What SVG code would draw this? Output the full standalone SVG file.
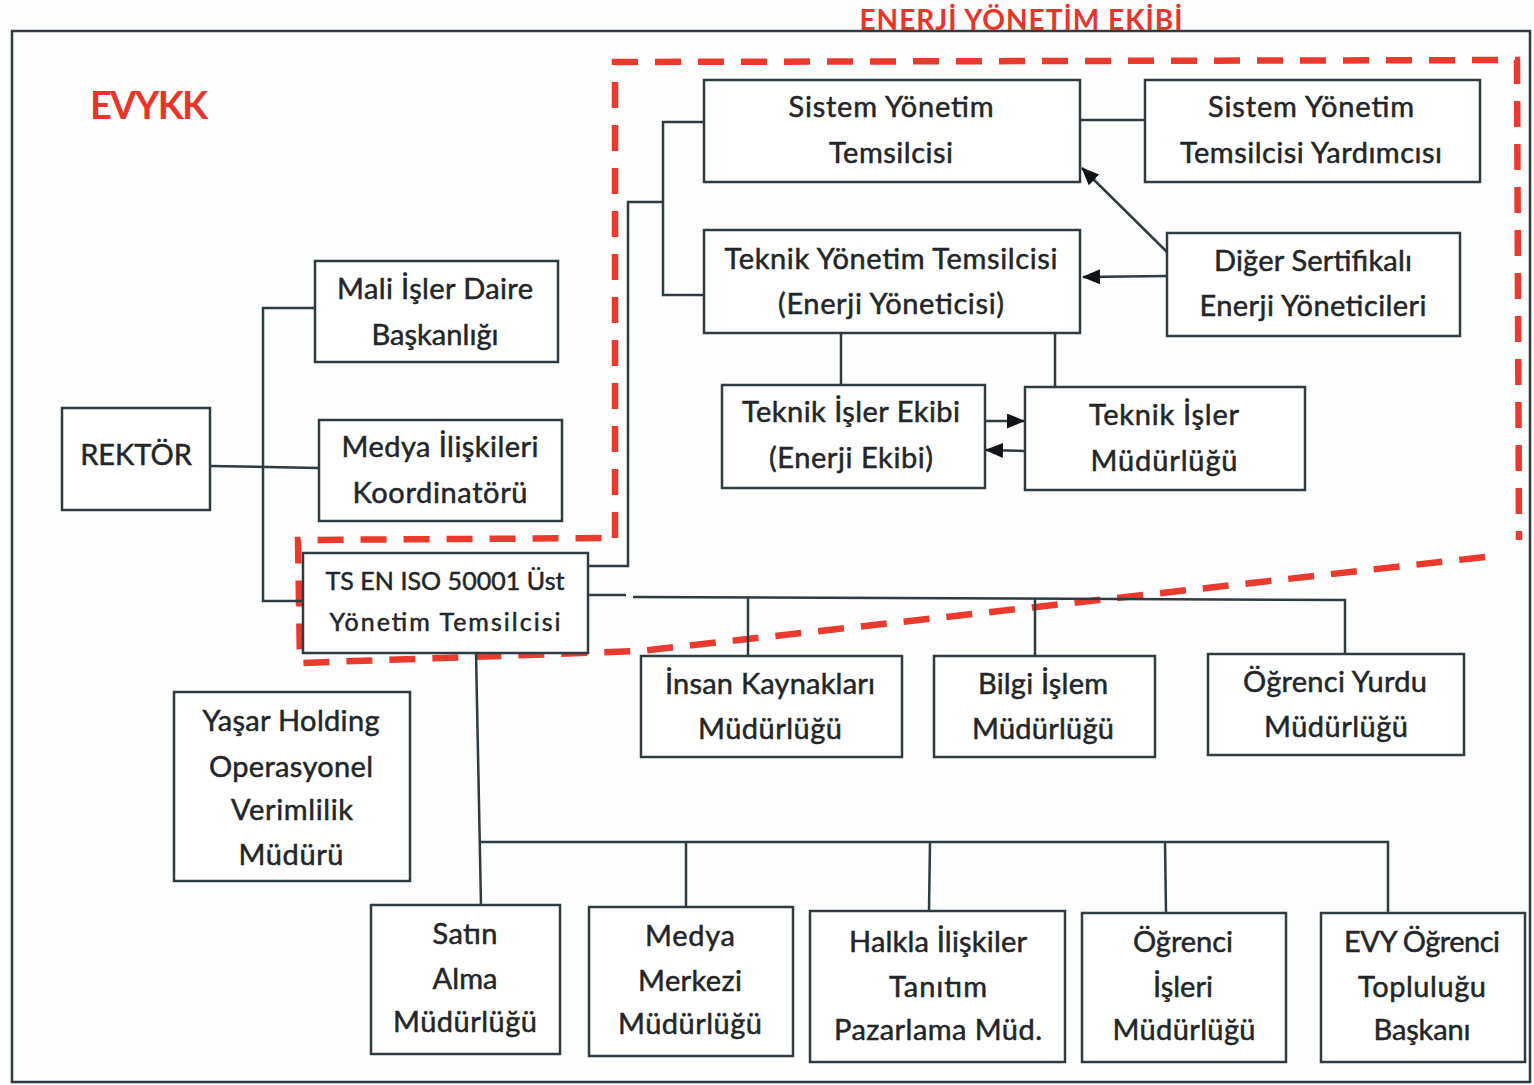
<svg xmlns="http://www.w3.org/2000/svg" width="1534" height="1085" viewBox="0 0 1534 1085">
<defs>
<style>
.bx{fill:#ffffff;stroke:#2e3c42;stroke-width:2.5}
.t{font-family:Lato,"Open Sans","Liberation Sans",sans-serif;font-size:29px;fill:#222628;stroke:#222628;stroke-width:0.5;text-anchor:middle}
.ts{font-size:25px}
.c{fill:none;stroke:#2e3c42;stroke-width:2.5}
.red{font-family:Lato,"Liberation Sans",sans-serif;font-weight:bold;fill:#e8352b}
.dash{fill:none;stroke:#ea3a2e;stroke-width:6.5;stroke-dasharray:26 17}
</style>
<marker id="ah" markerWidth="18" markerHeight="15" refX="17" refY="7.5" orient="auto" markerUnits="userSpaceOnUse"><path d="M0,0 L18,7.5 L0,15 z" fill="#111416"/></marker>
</defs>
<rect x="0" y="0" width="1534" height="1085" fill="#fdfdfd"/>
<rect x="12" y="31" width="1518" height="1051" fill="none" stroke="#2e3c42" stroke-width="2.5"/>
<text class="red" x="1021" y="30" font-size="28" text-anchor="middle" textLength="323">ENERJİ YÖNETİM EKİBİ</text>
<text class="red" x="90" y="119" font-size="38" textLength="118">EVYKK</text>

<g id="energy-team-boundary">
<polyline class="dash" points="615,538 615,62 1517,60 1519,540"/>
<polyline class="dash" points="1485,557 640,651 300,663 298,540 615,538"/>
</g>

<g id="connectors">
<line class="c" x1="210" y1="466" x2="319" y2="468"/>
<polyline class="c" points="315,308 263,308 263,601 303,601"/>
<polyline class="c" points="588,566 628,566 628,202 663,202"/>
<polyline class="c" points="704,122 663,122 663,295 704,295"/>
<line class="c" x1="1080" y1="120" x2="1145" y2="120"/>
<line class="c" x1="1167" y1="252" x2="1082" y2="168" marker-end="url(#ah)"/>
<line class="c" x1="1167" y1="276" x2="1083" y2="277" marker-end="url(#ah)"/>
<line class="c" x1="841" y1="333" x2="841" y2="385"/>
<line class="c" x1="1055" y1="333" x2="1055" y2="387"/>
<line class="c" x1="985" y1="421" x2="1024" y2="421" marker-end="url(#ah)"/>
<line class="c" x1="1025" y1="451" x2="986" y2="450" marker-end="url(#ah)"/>
<line class="c" x1="588" y1="595" x2="626" y2="595"/>
<polyline class="c" points="633,597 1345,600 1345,654"/>
<line class="c" x1="748" y1="597" x2="748" y2="656"/>
<line class="c" x1="1035" y1="598" x2="1035" y2="656"/>
<line class="c" x1="476" y1="653" x2="481" y2="905"/>
<polyline class="c" points="480,842 1388,842 1388,913"/>
<line class="c" x1="686" y1="842" x2="686" y2="907"/>
<line class="c" x1="930" y1="842" x2="929" y2="911"/>
<line class="c" x1="1165" y1="842" x2="1166" y2="913"/>
</g>

<g id="sistem-yonetim-temsilcisi">
<rect class="bx" x="704" y="80" width="376" height="102"/>
<text class="t" x="891" y="117" textLength="205">Sistem Yönetim</text>
<text class="t" x="891" y="163" textLength="124">Temsilcisi</text>
</g>
<g id="sistem-yonetim-temsilcisi-yardimcisi">
<rect class="bx" x="1145" y="80" width="335" height="102"/>
<text class="t" x="1311" y="117" textLength="206">Sistem Yönetim</text>
<text class="t" x="1311" y="163" textLength="262">Temsilcisi Yardımcısı</text>
</g>
<g id="teknik-yonetim-temsilcisi">
<rect class="bx" x="704" y="230" width="376" height="103"/>
<text class="t" x="891" y="269" textLength="333">Teknik Yönetim Temsilcisi</text>
<text class="t" x="891" y="314" textLength="226">(Enerji Yöneticisi)</text>
</g>
<g id="diger-sertifikali">
<rect class="bx" x="1167" y="233" width="293" height="103"/>
<text class="t" x="1313" y="271" textLength="198">Diğer Sertifikalı</text>
<text class="t" x="1313" y="316" textLength="227">Enerji Yöneticileri</text>
</g>
<g id="teknik-isler-ekibi">
<rect class="bx" x="722" y="385" width="263" height="103"/>
<text class="t" x="851" y="422" textLength="218">Teknik İşler Ekibi</text>
<text class="t" x="851" y="468" textLength="164">(Enerji Ekibi)</text>
</g>
<g id="teknik-isler-mudurlugu">
<rect class="bx" x="1025" y="387" width="280" height="103"/>
<text class="t" x="1164" y="425" textLength="150">Teknik İşler</text>
<text class="t" x="1164" y="471" textLength="147">Müdürlüğü</text>
</g>
<g id="mali-isler">
<rect class="bx" x="315" y="261" width="243" height="101"/>
<text class="t" x="435" y="299" textLength="196">Mali İşler Daire</text>
<text class="t" x="435" y="345" textLength="127">Başkanlığı</text>
</g>
<g id="rektor">
<rect class="bx" x="62" y="408" width="148" height="102"/>
<text class="t" x="136" y="465" font-size="26">REKTÖR</text>
</g>
<g id="medya-iliskileri">
<rect class="bx" x="319" y="420" width="243" height="101"/>
<text class="t" x="440" y="457" textLength="197">Medya İlişkileri</text>
<text class="t" x="440" y="503" textLength="175">Koordinatörü</text>
</g>
<g id="ts-en-iso">
<rect class="bx" x="303" y="553" width="285" height="100"/>
<text class="t ts" x="445" y="590" textLength="239">TS EN ISO 50001 Üst</text>
<text class="t ts" x="445" y="631" textLength="231">Yönetim Temsilcisi</text>
</g>
<g id="insan-kaynaklari">
<rect class="bx" x="641" y="656" width="261" height="101"/>
<text class="t" x="770" y="694" textLength="210">İnsan Kaynakları</text>
<text class="t" x="770" y="739" textLength="144">Müdürlüğü</text>
</g>
<g id="bilgi-islem">
<rect class="bx" x="934" y="656" width="221" height="101"/>
<text class="t" x="1043" y="694" textLength="130">Bilgi İşlem</text>
<text class="t" x="1043" y="739" textLength="142">Müdürlüğü</text>
</g>
<g id="ogrenci-yurdu">
<rect class="bx" x="1208" y="654" width="256" height="101"/>
<text class="t" x="1335" y="692" textLength="184">Öğrenci Yurdu</text>
<text class="t" x="1336" y="737" textLength="144">Müdürlüğü</text>
</g>
<g id="yasar-holding">
<rect class="bx" x="174" y="692" width="236" height="189"/>
<text class="t" x="291" y="731" textLength="177">Yaşar Holding</text>
<text class="t" x="291" y="777" textLength="164">Operasyonel</text>
<text class="t" x="292" y="820" textLength="122">Verimlilik</text>
<text class="t" x="291" y="865" textLength="105">Müdürü</text>
</g>
<g id="satin-alma">
<rect class="bx" x="371" y="905" width="189" height="149"/>
<text class="t" x="465" y="944" textLength="65">Satın</text>
<text class="t" x="465" y="989" textLength="65">Alma</text>
<text class="t" x="465" y="1032" textLength="144">Müdürlüğü</text>
</g>
<g id="medya-merkezi">
<rect class="bx" x="589" y="907" width="204" height="149"/>
<text class="t" x="690" y="946" textLength="90">Medya</text>
<text class="t" x="690" y="991" textLength="104">Merkezi</text>
<text class="t" x="690" y="1034" textLength="144">Müdürlüğü</text>
</g>
<g id="halkla-iliskiler">
<rect class="bx" x="810" y="911" width="255" height="151"/>
<text class="t" x="938" y="952" textLength="178">Halkla İlişkiler</text>
<text class="t" x="938" y="997" textLength="98">Tanıtım</text>
<text class="t" x="938" y="1040" textLength="208">Pazarlama Müd.</text>
</g>
<g id="ogrenci-isleri">
<rect class="bx" x="1082" y="913" width="204" height="149"/>
<text class="t" x="1183" y="952" textLength="100">Öğrenci</text>
<text class="t" x="1183" y="997">İşleri</text>
<text class="t" x="1184" y="1040" textLength="143">Müdürlüğü</text>
</g>
<g id="evy-ogrenci-toplulugu">
<rect class="bx" x="1321" y="913" width="204" height="149"/>
<text class="t" x="1422" y="952" textLength="156">EVY Öğrenci</text>
<text class="t" x="1422" y="997" textLength="128">Topluluğu</text>
<text class="t" x="1422" y="1040" textLength="97">Başkanı</text>
</g>
</svg>
